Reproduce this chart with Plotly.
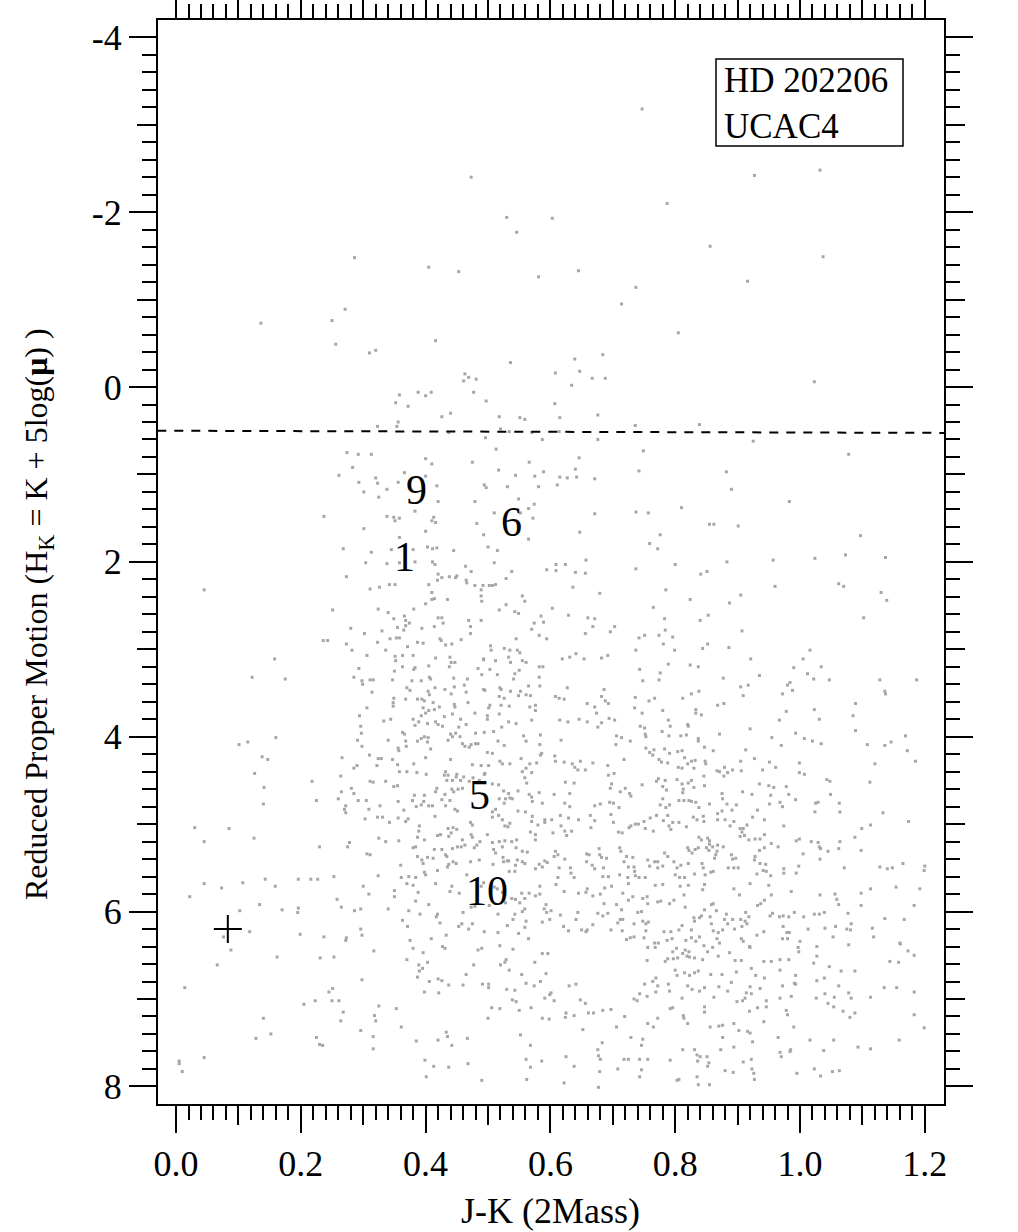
import plotly.graph_objects as go

# ---- data (J-K colour, reduced proper motion H_K) ----
upper_field = [
    (0.747, -3.18), (0.473, -2.40), (0.927, -2.42), (1.032, -2.48), (0.787, -2.10), (0.530, -1.94),
    (0.603, -1.93), (0.546, -1.77), (0.856, -1.61), (1.037, -1.49), (0.286, -1.48), (0.405, -1.37),
    (0.453, -1.32), (0.645, -1.33), (0.581, -1.26), (0.916, -1.21), (0.737, -1.14), (0.714, -0.95),
    (0.271, -0.89), (0.136, -0.73), (0.250, -0.76), (0.805, -0.62), (0.256, -0.49), (0.416, -0.53),
    (0.310, -0.39), (0.320, -0.42), (0.684, -0.37), (0.639, -0.32), (0.536, -0.28), (0.647, -0.18),
    (0.608, -0.16), (0.463, -0.15), (0.469, -0.11), (0.461, -0.07), (0.481, -0.09), (0.667, -0.10),
    (0.688, -0.10), (1.023, -0.06), (0.634, -0.02), (0.477, 0.06), (0.358, 0.09), (0.388, 0.06),
    (0.400, 0.10), (0.409, 0.06), (0.352, 0.18), (0.372, 0.22), (0.497, 0.16), (0.607, 0.19),
    (0.426, 0.34), (0.440, 0.30), (0.518, 0.34), (0.551, 0.35), (0.559, 0.37), (0.615, 0.35),
    (0.676, 0.32), (0.323, 0.45), (0.356, 0.40), (0.354, 0.45), (0.736, 0.44), (0.839, 0.43),
    (0.520, 0.48), (0.534, 0.51), (0.570, 0.52), (0.614, 0.51),
]

mid_left = [
    (0.437, 0.52), (0.496, 0.58), (0.274, 0.75), (0.292, 0.77), (0.313, 0.77), (0.283, 0.92), (0.261, 1.01),
    (0.293, 1.09), (0.301, 1.20), (0.320, 1.04), (0.323, 1.10), (0.338, 1.17), (0.325, 1.26), (0.356, 1.09),
    (0.366, 0.98), (0.400, 0.82), (0.410, 0.88), (0.400, 1.02), (0.418, 1.13), (0.420, 1.31), (0.383, 1.42),
    (0.338, 1.48), (0.349, 1.49), (0.358, 1.50), (0.351, 1.53), (0.413, 1.49), (0.410, 1.53), (0.416, 1.55),
    (0.301, 1.62), (0.400, 1.65), (0.358, 1.72), (0.268, 1.85), (0.313, 1.89), (0.345, 1.86), (0.380, 1.86),
    (0.403, 1.83), (0.411, 1.85), (0.418, 1.84), (0.445, 1.87), (0.304, 2.01), (0.338, 2.02), (0.358, 2.01),
    (0.383, 2.00), (0.411, 2.00), (0.415, 2.03), (0.237, 1.48), (0.273, 2.17), (0.311, 2.31), (0.326, 2.29),
    (0.342, 2.26), (0.351, 2.26), (0.420, 2.14), (0.419, 2.21), (0.426, 2.18), (0.438, 2.17), (0.450, 2.16),
    (0.448, 2.18), (0.405, 2.26), (0.410, 2.35), (0.414, 2.42), (0.410, 2.43), (0.400, 2.48), (0.435, 2.43),
    (0.464, 2.05), (0.473, 2.11), (0.465, 2.21), (0.466, 2.24), (0.479, 2.27), (0.489, 2.32), (0.492, 2.27),
    (0.502, 2.27), (0.512, 2.26), (0.507, 2.27), (0.489, 2.39), (0.490, 2.45), (0.529, 2.19), (0.538, 2.11),
    (0.510, 2.01), (0.500, 1.83), (0.515, 1.87), (0.493, 1.69), (0.482, 1.56), (0.479, 1.31), (0.494, 1.12),
    (0.497, 1.15), (0.510, 1.44), (0.531, 1.14), (0.549, 1.28), (0.552, 1.44), (0.565, 1.39), (0.574, 1.34),
    (0.572, 1.50), (0.565, 1.74), (0.544, 1.01), (0.517, 0.95), (0.513, 0.71), (0.475, 0.86), (0.566, 0.86),
    (0.575, 1.02), (0.587, 0.60), (0.589, 0.97), (0.581, 1.14), (0.594, 2.09), (0.045, 2.32), (0.251, 2.55),
    (0.324, 2.54), (0.340, 2.58), (0.349, 2.65), (0.366, 2.62), (0.368, 2.67), (0.374, 2.70), (0.368, 2.73),
    (0.365, 2.78), (0.381, 2.54), (0.355, 2.75), (0.394, 2.76), (0.414, 2.74), (0.420, 2.64), (0.426, 2.64),
    (0.428, 2.70), (0.469, 2.67), (0.472, 2.74), (0.489, 2.67), (0.472, 2.82), (0.518, 2.55), (0.529, 2.49),
    (0.543, 2.57), (0.549, 2.59), (0.555, 2.39), (0.559, 2.45), (0.585, 2.62), (0.589, 2.69), (0.574, 2.70),
    (0.570, 2.77), (0.582, 2.84), (0.594, 2.88), (0.280, 2.76), (0.302, 2.82), (0.330, 2.79), (0.236, 2.90),
    (0.243, 2.90), (0.273, 2.94), (0.282, 3.01), (0.323, 2.92), (0.343, 2.88), (0.353, 2.87), (0.358, 2.87),
    (0.371, 2.97), (0.387, 2.92), (0.396, 2.93), (0.423, 2.88), (0.425, 2.90), (0.432, 2.95), (0.442, 2.94),
    (0.457, 2.89), (0.545, 2.88), (0.504, 2.96), (0.505, 3.01), (0.526, 2.99), (0.535, 3.01), (0.547, 3.01),
    (0.551, 3.04), (0.306, 3.07), (0.336, 3.01), (0.351, 3.08), (0.363, 3.07), (0.380, 3.07), (0.416, 3.10),
    (0.439, 3.09), (0.493, 3.11), (0.533, 3.09), (0.158, 3.11),
]

mid_right = [
    (0.676, 0.60), (0.925, 0.62), (0.749, 0.73), (0.646, 0.81), (1.078, 0.77), (0.640, 0.94), (0.615, 1.03),
    (0.627, 1.04), (0.642, 1.03), (0.611, 1.12), (0.671, 1.05), (0.742, 0.96), (0.882, 0.97), (0.890, 1.17),
    (0.983, 1.31), (0.671, 1.45), (0.737, 1.43), (0.757, 1.44), (0.810, 1.38), (0.855, 1.57), (0.862, 1.57),
    (0.901, 1.59), (0.647, 1.66), (0.776, 1.69), (0.759, 1.79), (0.772, 1.85), (1.097, 1.70), (0.609, 2.03),
    (0.624, 2.03), (0.609, 2.10), (0.640, 2.12), (0.656, 2.13), (0.657, 1.98), (0.737, 2.08), (0.800, 2.03),
    (0.841, 2.14), (0.851, 2.11), (0.883, 2.00), (0.957, 1.98), (1.024, 1.96), (1.073, 1.92), (1.137, 1.95),
    (0.636, 2.29), (0.679, 2.36), (0.785, 2.32), (0.824, 2.43), (0.887, 2.47), (0.905, 2.38), (0.960, 2.28),
    (1.062, 2.25), (1.070, 2.28), (1.130, 2.35), (1.139, 2.44), (0.603, 2.53), (0.629, 2.61), (0.660, 2.64),
    (0.671, 2.65), (0.668, 2.74), (0.656, 2.82), (0.696, 2.80), (0.703, 2.74), (0.765, 2.52), (0.783, 2.65),
    (0.784, 2.78), (0.774, 2.84), (0.796, 2.86), (0.781, 2.94), (0.799, 3.01), (0.742, 2.87), (0.751, 2.84),
    (0.737, 3.01), (0.840, 2.67), (0.853, 2.61), (0.907, 2.79), (0.852, 2.94), (0.844, 2.99), (0.886, 2.98),
    (1.102, 2.64), (1.016, 3.01), (1.005, 3.11), (0.921, 3.11), (0.619, 3.11), (0.631, 3.09), (0.641, 3.05),
    (0.654, 3.11), (0.682, 3.10), (0.692, 3.07),
]

core_left = [
    (0.441, 3.15), (0.447, 3.15), (0.493, 3.12), (0.512, 3.13), (0.536, 3.15), (0.555, 3.13), (0.561, 3.15),
    (0.582, 3.20), (0.588, 3.20), (0.352, 3.13), (0.350, 3.25), (0.363, 3.20), (0.383, 3.21), (0.381, 3.23),
    (0.405, 3.19), (0.438, 3.20), (0.484, 3.22), (0.503, 3.23), (0.550, 3.24), (0.543, 3.28), (0.293, 3.22),
    (0.122, 3.32), (0.175, 3.34), (0.285, 3.32), (0.298, 3.36), (0.299, 3.40), (0.311, 3.35), (0.316, 3.35),
    (0.347, 3.35), (0.378, 3.36), (0.393, 3.36), (0.406, 3.32), (0.408, 3.34), (0.445, 3.33), (0.467, 3.34),
    (0.490, 3.29), (0.515, 3.29), (0.541, 3.34), (0.582, 3.32), (0.314, 3.49), (0.370, 3.44), (0.375, 3.47),
    (0.404, 3.48), (0.406, 3.52), (0.415, 3.44), (0.431, 3.46), (0.446, 3.43), (0.441, 3.51), (0.462, 3.41),
    (0.465, 3.49), (0.493, 3.46), (0.495, 3.47), (0.519, 3.44), (0.521, 3.46), (0.536, 3.48), (0.549, 3.53),
    (0.552, 3.48), (0.565, 3.42), (0.561, 3.52), (0.583, 3.42), (0.568, 3.53), (0.306, 3.67), (0.349, 3.56),
    (0.368, 3.57), (0.348, 3.61), (0.348, 3.65), (0.387, 3.57), (0.394, 3.57), (0.398, 3.59), (0.412, 3.61),
    (0.396, 3.67), (0.405, 3.70), (0.414, 3.69), (0.422, 3.66), (0.446, 3.63), (0.447, 3.66), (0.468, 3.61),
    (0.503, 3.64), (0.501, 3.67), (0.521, 3.64), (0.534, 3.65), (0.518, 3.54), (0.526, 3.56), (0.567, 3.66),
    (0.576, 3.64), (0.576, 3.70), (0.294, 3.76), (0.296, 3.88), (0.333, 3.82), (0.344, 3.80), (0.380, 3.80),
    (0.393, 3.76), (0.400, 3.73), (0.389, 3.83), (0.403, 3.85), (0.416, 3.83), (0.420, 3.86), (0.430, 3.77),
    (0.427, 3.88), (0.443, 3.74), (0.456, 3.80), (0.453, 3.89), (0.465, 3.86), (0.479, 3.73), (0.499, 3.76),
    (0.499, 3.80), (0.518, 3.74), (0.533, 3.83), (0.545, 3.85), (0.570, 3.81), (0.522, 3.89), (0.297, 3.96),
    (0.291, 4.04), (0.298, 4.11), (0.340, 4.04), (0.356, 4.13), (0.357, 4.16), (0.366, 3.97), (0.368, 4.05),
    (0.369, 4.11), (0.383, 3.87), (0.387, 4.05), (0.393, 4.02), (0.398, 4.00), (0.404, 4.01), (0.403, 4.06),
    (0.408, 4.14), (0.363, 3.95), (0.436, 4.04), (0.440, 3.97), (0.443, 4.00), (0.448, 3.96), (0.455, 4.00),
    (0.459, 4.08), (0.463, 4.11), (0.470, 4.12), (0.473, 4.09), (0.480, 4.08), (0.484, 4.08), (0.480, 3.96),
    (0.494, 3.95), (0.499, 4.18), (0.509, 3.94), (0.507, 4.19), (0.516, 4.05), (0.526, 4.10), (0.557, 3.99),
    (0.561, 4.05), (0.584, 3.98), (0.583, 4.09), (0.586, 4.19), (0.101, 4.09), (0.115, 4.06), (0.160, 4.01),
    (0.266, 4.24), (0.285, 4.36), (0.290, 4.33), (0.310, 4.21), (0.324, 4.25), (0.329, 4.25), (0.322, 4.33),
    (0.347, 4.26), (0.355, 4.32), (0.358, 4.40), (0.370, 4.40), (0.381, 4.31), (0.386, 4.41), (0.400, 4.24),
    (0.401, 4.43), (0.440, 4.26), (0.432, 4.40), (0.436, 4.44), (0.450, 4.43), (0.449, 4.46), (0.461, 4.46),
    (0.475, 4.32), (0.489, 4.33), (0.501, 4.33), (0.495, 4.42), (0.519, 4.28), (0.523, 4.31), (0.535, 4.31),
    (0.553, 4.25), (0.555, 4.40), (0.561, 4.36), (0.570, 4.41), (0.567, 4.31), (0.578, 4.30), (0.584, 4.21),
    (0.138, 4.23), (0.147, 4.26), (0.126, 4.42), (0.218, 4.51), (0.264, 4.45), (0.311, 4.51), (0.316, 4.52),
    (0.336, 4.51), (0.349, 4.57), (0.355, 4.56), (0.265, 4.63), (0.281, 4.59), (0.285, 4.65), (0.260, 4.71),
    (0.272, 4.79), (0.270, 4.83), (0.272, 4.87), (0.292, 4.73), (0.305, 4.73), (0.309, 4.83), (0.303, 4.94),
    (0.323, 4.92), (0.331, 4.92), (0.327, 4.79), (0.342, 4.98), (0.356, 4.74), (0.356, 4.93), (0.365, 4.84),
    (0.368, 4.97), (0.372, 4.94), (0.379, 4.73), (0.382, 4.67), (0.385, 4.80), (0.393, 4.78), (0.397, 4.74),
    (0.398, 4.67), (0.405, 4.79), (0.411, 4.79), (0.418, 4.59), (0.416, 4.63), (0.431, 4.66), (0.442, 4.60),
    (0.445, 4.63), (0.452, 4.60), (0.459, 4.59), (0.415, 4.91), (0.426, 4.72), (0.432, 4.79), (0.439, 4.73),
    (0.447, 4.83), (0.451, 4.85), (0.430, 4.44), (0.434, 4.50), (0.443, 4.50), (0.456, 4.50), (0.470, 4.51),
    (0.476, 4.47), (0.486, 4.50), (0.494, 4.43), (0.507, 4.54), (0.517, 4.55), (0.518, 4.71), (0.525, 4.62),
    (0.528, 4.71), (0.526, 4.76), (0.535, 4.70), (0.539, 4.71), (0.548, 4.62), (0.533, 4.65), (0.559, 4.47),
    (0.562, 4.53), (0.566, 4.66), (0.570, 4.69), (0.571, 4.74), (0.582, 4.64), (0.587, 4.76), (0.507, 4.86),
    (0.512, 4.83), (0.517, 4.90), (0.507, 4.92), (0.535, 4.99), (0.523, 4.95), (0.532, 5.03), (0.527, 5.02),
    (0.548, 4.85), (0.560, 4.86), (0.571, 4.91), (0.570, 4.97), (0.580, 5.01), (0.591, 4.98), (0.591, 4.95),
    (0.141, 4.58), (0.140, 4.77), (0.225, 4.73), (0.030, 5.04), (0.085, 5.05), (0.045, 5.20), (0.125, 5.16),
    (0.230, 5.26), (0.275, 5.26), (0.278, 5.21), (0.306, 5.34), (0.311, 5.35), (0.325, 5.16), (0.336, 5.20),
    (0.357, 5.19), (0.390, 5.02), (0.389, 5.08), (0.387, 5.15), (0.398, 5.18), (0.419, 5.13), (0.424, 5.12),
    (0.436, 5.05), (0.437, 5.14), (0.441, 5.10), (0.444, 5.04), (0.450, 5.06), (0.443, 5.28), (0.451, 5.26),
    (0.459, 5.18), (0.463, 5.24), (0.473, 5.12), (0.475, 5.15), (0.478, 5.27), (0.482, 5.24), (0.487, 5.20),
    (0.472, 4.98), (0.475, 5.01), (0.499, 5.12), (0.507, 5.21), (0.518, 5.20), (0.527, 5.19), (0.538, 5.20),
    (0.546, 5.18), (0.509, 5.29), (0.512, 5.33), (0.524, 5.38), (0.533, 5.42), (0.545, 5.27), (0.555, 5.31),
    (0.563, 5.32), (0.523, 5.26), (0.568, 5.09), (0.576, 5.12), (0.576, 5.18), (0.380, 5.27), (0.384, 5.26),
    (0.387, 5.37), (0.394, 5.41), (0.396, 5.45), (0.403, 5.38), (0.412, 5.39), (0.414, 5.29), (0.426, 5.29),
    (0.432, 5.35), (0.434, 5.37), (0.444, 5.43), (0.449, 5.45), (0.457, 5.26), (0.472, 5.43), (0.486, 5.41),
    (0.508, 5.46), (0.525, 5.43), (0.531, 5.42), (0.547, 5.41), (0.544, 5.47), (0.555, 5.43), (0.559, 5.45),
    (0.582, 5.46), (0.591, 5.42), (0.595, 5.44), (0.360, 5.47), (0.324, 5.59), (0.361, 5.61), (0.373, 5.60),
    (0.384, 5.61), (0.398, 5.55), (0.400, 5.58), (0.419, 5.53), (0.435, 5.49), (0.437, 5.46), (0.143, 5.63),
    (0.196, 5.63), (0.216, 5.63), (0.227, 5.63), (0.253, 5.60), (0.466, 5.58), (0.534, 5.54), (0.543, 5.54),
    (0.576, 5.51), (0.587, 5.49),
]

core_right = [
    (0.743, 3.23), (0.776, 3.27), (0.789, 3.17), (0.824, 3.18), (0.837, 3.20), (0.748, 3.36), (0.774, 3.35),
    (0.877, 3.33), (0.935, 3.30), (0.990, 3.21), (1.012, 3.28), (1.022, 3.34), (1.034, 3.20), (1.047, 3.35),
    (1.128, 3.35), (1.187, 3.35), (0.627, 3.44), (0.608, 3.54), (0.614, 3.56), (0.622, 3.57), (0.659, 3.62),
    (0.671, 3.66), (0.686, 3.46), (0.682, 3.54), (0.688, 3.59), (0.693, 3.62), (0.736, 3.55), (0.758, 3.59),
    (0.767, 3.56), (0.812, 3.56), (0.826, 3.51), (0.838, 3.48), (0.905, 3.43), (0.917, 3.41), (0.909, 3.53),
    (0.972, 3.51), (0.980, 3.41), (0.984, 3.38), (0.988, 3.47), (1.136, 3.48), (1.137, 3.51), (1.089, 3.62),
    (1.085, 3.76), (1.089, 3.93), (0.615, 3.81), (0.628, 3.83), (0.646, 3.80), (0.659, 3.83), (0.676, 3.89),
    (0.682, 3.84), (0.694, 3.79), (0.703, 3.81), (0.674, 3.73), (0.735, 3.67), (0.747, 3.73), (0.780, 3.70),
    (0.789, 3.81), (0.792, 3.88), (0.820, 3.86), (0.821, 3.88), (0.833, 3.69), (0.833, 3.73), (0.842, 3.75),
    (0.868, 3.64), (0.878, 3.62), (0.978, 3.71), (0.967, 3.81), (1.023, 3.69), (1.031, 3.80), (0.920, 3.91),
    (0.744, 3.88), (0.751, 3.90), (0.752, 3.97), (0.753, 4.00), (0.779, 3.94), (0.790, 3.99), (0.809, 3.99),
    (0.818, 3.98), (0.837, 4.02), (0.837, 4.05), (0.871, 3.97), (0.706, 3.99), (0.714, 4.01), (0.728, 4.05),
    (0.705, 4.09), (0.617, 4.04), (0.955, 4.01), (0.970, 4.10), (0.993, 3.96), (1.007, 4.02), (1.020, 4.05),
    (1.034, 4.08), (1.108, 4.09), (1.136, 4.10), (1.146, 4.06), (1.169, 3.99), (1.172, 4.16), (1.185, 4.28),
    (1.120, 4.31), (1.112, 4.52), (0.607, 4.22), (0.608, 4.28), (0.622, 4.29), (0.635, 4.31), (0.639, 4.35),
    (0.648, 4.28), (0.644, 4.38), (0.656, 4.38), (0.668, 4.30), (0.692, 4.33), (0.693, 4.44), (0.702, 4.42),
    (0.718, 4.26), (0.753, 4.13), (0.759, 4.18), (0.766, 4.15), (0.764, 4.21), (0.774, 4.26), (0.778, 4.29),
    (0.788, 4.30), (0.783, 4.14), (0.791, 4.19), (0.804, 4.17), (0.811, 4.16), (0.815, 4.24), (0.805, 4.35),
    (0.811, 4.36), (0.820, 4.31), (0.826, 4.28), (0.832, 4.27), (0.830, 4.36), (0.848, 4.28), (0.849, 4.31),
    (0.846, 4.45), (0.861, 4.16), (0.847, 4.12), (0.867, 4.39), (0.871, 4.40), (0.879, 4.35), (0.884, 4.41),
    (0.892, 4.38), (0.878, 4.45), (0.906, 4.39), (0.905, 4.28), (0.913, 4.15), (0.927, 4.25), (0.940, 4.38),
    (0.951, 4.29), (0.961, 4.35), (0.999, 4.30), (0.999, 4.41), (1.007, 4.43), (1.043, 4.49), (1.048, 4.51),
    (0.624, 4.52), (0.638, 4.53), (0.606, 4.66), (0.631, 4.65), (0.623, 4.76), (0.631, 4.80), (0.671, 4.79),
    (0.680, 4.77), (0.695, 4.75), (0.701, 4.76), (0.710, 4.81), (0.698, 4.54), (0.696, 4.59), (0.712, 4.63),
    (0.720, 4.59), (0.727, 4.65), (0.729, 4.68), (0.747, 4.55), (0.770, 4.51), (0.773, 4.48), (0.784, 4.50),
    (0.780, 4.57), (0.786, 4.61), (0.803, 4.49), (0.811, 4.54), (0.813, 4.60), (0.812, 4.64), (0.821, 4.53),
    (0.826, 4.50), (0.830, 4.58), (0.847, 4.56), (0.780, 4.71), (0.776, 4.78), (0.785, 4.81), (0.791, 4.78),
    (0.806, 4.73), (0.814, 4.73), (0.822, 4.73), (0.826, 4.74), (0.833, 4.75), (0.838, 4.81), (0.855, 4.77),
    (0.875, 4.65), (0.876, 4.71), (0.883, 4.77), (0.898, 4.78), (0.908, 4.63), (0.923, 4.66), (0.935, 4.54),
    (0.950, 4.56), (0.958, 4.58), (0.953, 4.67), (0.968, 4.75), (0.972, 4.80), (0.978, 4.57), (0.982, 4.66),
    (0.993, 4.72), (0.951, 4.77), (0.932, 4.84), (1.025, 4.76), (1.029, 4.75), (1.024, 4.86), (1.063, 4.76),
    (1.064, 4.86), (1.049, 4.66), (1.133, 4.87), (1.174, 4.97), (0.602, 4.95), (0.616, 4.90), (0.629, 4.93),
    (0.645, 4.95), (0.664, 4.90), (0.671, 4.96), (0.665, 5.04), (0.604, 5.10), (0.617, 5.02), (0.623, 5.08),
    (0.634, 5.08), (0.626, 5.13), (0.697, 4.89), (0.701, 4.98), (0.709, 5.09), (0.715, 5.10), (0.726, 5.04),
    (0.729, 5.02), (0.736, 5.00), (0.741, 5.00), (0.750, 4.97), (0.752, 5.05), (0.765, 5.08), (0.760, 4.93),
    (0.770, 4.90), (0.788, 4.90), (0.781, 4.96), (0.790, 5.02), (0.796, 4.98), (0.806, 4.98), (0.793, 5.06),
    (0.818, 5.03), (0.829, 4.92), (0.835, 4.95), (0.845, 4.91), (0.846, 4.97), (0.868, 4.88), (0.875, 4.85),
    (0.891, 4.84), (0.868, 4.95), (0.880, 4.95), (0.894, 4.97), (0.915, 5.01), (0.924, 4.92), (0.943, 4.95),
    (0.888, 5.02), (0.904, 5.05), (0.909, 5.05), (0.907, 5.09), (0.904, 5.14), (0.911, 5.13), (0.918, 5.18),
    (0.928, 5.17), (0.936, 5.17), (0.943, 5.12), (0.974, 5.02), (0.935, 5.30), (0.943, 5.27), (0.954, 5.22),
    (0.965, 5.26), (0.994, 5.19), (0.999, 5.17), (1.018, 5.20), (1.029, 5.21), (1.031, 5.26), (1.033, 5.28),
    (1.045, 5.31), (1.062, 5.28), (1.064, 5.20), (1.088, 5.15), (1.098, 5.30), (1.099, 5.05), (1.113, 5.01),
    (0.608, 5.31), (0.612, 5.35), (0.606, 5.37), (0.623, 5.40), (0.614, 5.50), (0.632, 5.50), (0.633, 5.56),
    (0.638, 5.61), (0.658, 5.34), (0.662, 5.35), (0.658, 5.43), (0.667, 5.47), (0.678, 5.28), (0.679, 5.35),
    (0.682, 5.38), (0.690, 5.39), (0.671, 5.51), (0.685, 5.50), (0.684, 5.60), (0.693, 5.60), (0.711, 5.58),
    (0.711, 5.27), (0.713, 5.31), (0.722, 5.37), (0.732, 5.38), (0.718, 5.43), (0.725, 5.49), (0.734, 5.49),
    (0.735, 5.54), (0.736, 5.59), (0.724, 5.61), (0.742, 5.61), (0.752, 5.61), (0.756, 5.41), (0.767, 5.43),
    (0.772, 5.43), (0.759, 5.48), (0.772, 5.50), (0.780, 5.48), (0.783, 5.33), (0.788, 5.37), (0.798, 5.43),
    (0.803, 5.50), (0.809, 5.47), (0.800, 5.58), (0.807, 5.61), (0.815, 5.61), (0.822, 5.30), (0.820, 5.27),
    (0.827, 5.33), (0.832, 5.29), (0.837, 5.27), (0.838, 5.15), (0.842, 5.18), (0.852, 5.16), (0.855, 5.19),
    (0.855, 5.23), (0.850, 5.27), (0.854, 5.30), (0.860, 5.26), (0.868, 5.24), (0.877, 5.26), (0.867, 5.31),
    (0.865, 5.35), (0.863, 5.39), (0.821, 5.45), (0.843, 5.45), (0.845, 5.50), (0.831, 5.57), (0.848, 5.58),
    (0.857, 5.55), (0.861, 5.54), (0.890, 5.35), (0.892, 5.40), (0.897, 5.39), (0.885, 5.50), (0.894, 5.50),
    (0.901, 5.50), (0.927, 5.41), (0.928, 5.37), (0.936, 5.45), (0.945, 5.46), (0.946, 5.54), (0.931, 5.57),
    (0.941, 5.53), (0.953, 5.59), (0.974, 5.56), (0.974, 5.51), (0.994, 5.56), (0.998, 5.48), (1.005, 5.34),
    (1.032, 5.40), (1.071, 5.50), (1.128, 5.49), (1.140, 5.51), (1.148, 5.50), (1.165, 5.45), (1.200, 5.48),
    (1.199, 5.53), (0.612, 5.61),
]

low_left = [
    (0.045, 5.68), (0.073, 5.73), (0.107, 5.67), (0.159, 5.71), (0.022, 5.83), (0.102, 5.99), (0.134, 5.92),
    (0.170, 5.98), (0.196, 5.96), (0.195, 6.01), (0.258, 5.86), (0.265, 5.95), (0.286, 5.99), (0.296, 5.97),
    (0.300, 5.71), (0.309, 5.80), (0.340, 5.97), (0.350, 5.76), (0.350, 5.83), (0.370, 5.68), (0.380, 5.70),
    (0.388, 5.78), (0.416, 5.68), (0.442, 5.71), (0.439, 5.77), (0.454, 5.79), (0.384, 5.88), (0.405, 5.92),
    (0.373, 5.99), (0.391, 6.03), (0.363, 6.10), (0.371, 6.17), (0.419, 6.03), (0.417, 6.06), (0.423, 6.13),
    (0.460, 6.01), (0.453, 6.17), (0.458, 6.14), (0.469, 6.20), (0.475, 6.14), (0.473, 5.95), (0.479, 5.94),
    (0.494, 6.23), (0.516, 6.24), (0.502, 5.93), (0.516, 6.03), (0.531, 6.16), (0.540, 6.09), (0.543, 6.03),
    (0.549, 6.25), (0.561, 6.11), (0.559, 6.18), (0.565, 6.31), (0.587, 6.12), (0.599, 6.09), (0.594, 6.01),
    (0.590, 5.97), (0.593, 5.92), (0.583, 5.80), (0.576, 5.82), (0.583, 5.71), (0.554, 5.79), (0.559, 5.85),
    (0.566, 5.79), (0.551, 5.90), (0.538, 5.85), (0.544, 5.86), (0.555, 6.00), (0.559, 5.97), (0.528, 5.90),
    (0.523, 5.78), (0.515, 5.74), (0.493, 5.67), (0.489, 5.71), (0.510, 5.72), (0.118, 6.23), (0.076, 6.29),
    (0.088, 6.44), (0.066, 6.61), (0.014, 6.87), (0.162, 6.52), (0.199, 6.26), (0.237, 6.29), (0.273, 6.30),
    (0.272, 6.33), (0.296, 6.20), (0.298, 6.27), (0.317, 6.45), (0.231, 6.53), (0.253, 6.52), (0.298, 6.78),
    (0.375, 6.33), (0.380, 6.42), (0.396, 6.47), (0.370, 6.55), (0.389, 6.61), (0.390, 6.68), (0.395, 6.65),
    (0.403, 6.58), (0.387, 6.75), (0.409, 6.31), (0.433, 6.27), (0.427, 6.40), (0.431, 6.42), (0.477, 6.61),
    (0.465, 6.72), (0.484, 6.44), (0.490, 6.42), (0.519, 6.39), (0.540, 6.43), (0.520, 6.61), (0.527, 6.58),
    (0.529, 6.55), (0.534, 6.67), (0.554, 6.72), (0.575, 6.58), (0.587, 6.48), (0.596, 6.48), (0.593, 6.71),
    (0.245, 6.92), (0.251, 6.88), (0.250, 7.02), (0.261, 7.02), (0.205, 7.06), (0.223, 7.02), (0.268, 7.15),
    (0.264, 7.25), (0.325, 7.08), (0.353, 7.11), (0.318, 7.19), (0.320, 7.25), (0.296, 7.36), (0.316, 7.43),
    (0.316, 7.57), (0.361, 7.32), (0.385, 7.48), (0.399, 7.70), (0.413, 7.77), (0.437, 7.78), (0.468, 7.74),
    (0.401, 7.89), (0.420, 7.47), (0.433, 7.38), (0.435, 7.43), (0.442, 7.53), (0.467, 7.45), (0.490, 7.93),
    (0.561, 7.69), (0.568, 7.78), (0.586, 7.71), (0.562, 7.92), (0.552, 7.41), (0.568, 7.53), (0.500, 7.22),
    (0.506, 7.10), (0.519, 7.11), (0.550, 7.13), (0.569, 7.10), (0.587, 7.22), (0.598, 7.23), (0.591, 6.99),
    (0.599, 6.95), (0.530, 6.89), (0.543, 6.90), (0.539, 7.01), (0.545, 7.03), (0.561, 6.82), (0.574, 6.85),
    (0.584, 6.80), (0.491, 6.83), (0.501, 6.83), (0.501, 6.87), (0.460, 6.84), (0.437, 6.84), (0.420, 6.77),
    (0.426, 6.79), (0.406, 6.80), (0.398, 6.92), (0.421, 6.93), (0.140, 7.22), (0.128, 7.45), (0.152, 7.40),
    (0.225, 7.44), (0.230, 7.52), (0.235, 7.53), (0.045, 7.67), (0.005, 7.71), (0.005, 7.74), (0.010, 7.83),
]

low_right = [
    (0.609, 5.69), (0.622, 5.77), (0.645, 5.79), (0.657, 5.78), (0.668, 5.82), (0.659, 5.74), (0.680, 5.80),
    (0.687, 5.73), (0.698, 5.71), (0.716, 5.79), (0.725, 5.68), (0.768, 5.70), (0.780, 5.69), (0.808, 5.71),
    (0.821, 5.70), (0.847, 5.69), (0.844, 5.75), (0.894, 5.74), (0.903, 5.81), (0.920, 5.68), (0.950, 5.70),
    (0.986, 5.77), (1.032, 5.81), (1.056, 5.80), (1.059, 5.86), (1.098, 5.79), (1.113, 5.74), (1.154, 5.72),
    (1.192, 5.74), (1.183, 5.93), (1.098, 5.93), (1.077, 6.02), (1.136, 6.08), (1.167, 6.09), (1.062, 5.92),
    (1.031, 6.03), (1.039, 6.01), (1.013, 6.20), (1.040, 6.19), (1.057, 6.17), (1.075, 6.20), (1.081, 6.21),
    (1.082, 6.14), (1.116, 6.19), (1.118, 6.29), (1.161, 6.37), (1.173, 6.45), (1.183, 6.50), (1.053, 6.29),
    (1.078, 6.38), (1.027, 6.40), (1.027, 6.51), (1.022, 6.59), (1.047, 6.63), (1.066, 6.68), (1.088, 6.68),
    (0.997, 6.41), (0.998, 6.46), (1.000, 6.34), (0.972, 6.31), (0.980, 6.31), (0.973, 6.17), (0.979, 6.24),
    (0.983, 6.24), (0.973, 6.05), (0.982, 6.06), (0.991, 6.01), (1.006, 6.06), (1.023, 6.03), (0.967, 6.06),
    (0.956, 6.02), (0.952, 6.05), (0.932, 5.93), (0.937, 5.91), (0.943, 5.87), (0.954, 5.81), (0.918, 6.06),
    (0.913, 6.01), (0.905, 6.09), (0.892, 6.09), (0.882, 6.03), (0.879, 6.09), (0.884, 6.14), (0.895, 6.20),
    (0.915, 6.14), (0.907, 6.17), (0.912, 6.11), (0.931, 6.27), (0.942, 6.23), (0.919, 6.40), (0.906, 6.31),
    (0.876, 6.21), (0.869, 6.24), (0.861, 6.22), (0.858, 6.14), (0.856, 6.06), (0.858, 5.92), (0.861, 5.91),
    (0.866, 5.99), (0.847, 5.98), (0.842, 6.05), (0.831, 6.11), (0.830, 6.07), (0.816, 5.95), (0.814, 5.81),
    (0.798, 5.87), (0.791, 5.91), (0.772, 5.89), (0.777, 5.88), (0.756, 5.91), (0.748, 5.85), (0.755, 5.83),
    (0.732, 5.83), (0.725, 5.87), (0.740, 6.01), (0.746, 6.00), (0.714, 5.98), (0.706, 5.92), (0.686, 5.91),
    (0.692, 6.02), (0.684, 6.05), (0.676, 6.02), (0.644, 6.01), (0.641, 6.09), (0.616, 6.04), (0.601, 5.99),
    (0.621, 6.17), (0.629, 6.22), (0.650, 6.21), (0.659, 6.21), (0.657, 6.23), (0.668, 6.15), (0.697, 6.21),
    (0.715, 6.22), (0.734, 6.14), (0.748, 6.11), (0.753, 6.14), (0.757, 6.12), (0.753, 6.22), (0.708, 6.13),
    (0.712, 6.09), (0.716, 6.09), (0.722, 6.32), (0.728, 6.30), (0.734, 6.29), (0.750, 6.30), (0.756, 6.41),
    (0.768, 6.41), (0.773, 6.36), (0.767, 6.36), (0.782, 6.23), (0.793, 6.23), (0.806, 6.21), (0.811, 6.16),
    (0.826, 6.21), (0.839, 6.29), (0.839, 6.07), (0.787, 6.33), (0.795, 6.31), (0.817, 6.33), (0.826, 6.30),
    (0.833, 6.34), (0.816, 6.44), (0.812, 6.48), (0.822, 6.46), (0.819, 6.51), (0.802, 6.42), (0.796, 6.46),
    (0.804, 6.53), (0.797, 6.54), (0.784, 6.57), (0.788, 6.54), (0.823, 6.52), (0.831, 6.53), (0.844, 6.55),
    (0.846, 6.39), (0.852, 6.46), (0.860, 6.41), (0.867, 6.31), (0.871, 6.36), (0.869, 6.51), (0.887, 6.47),
    (0.896, 6.56), (0.906, 6.56), (0.922, 6.65), (0.929, 6.73), (0.898, 6.69), (0.875, 6.72), (0.890, 6.81),
    (0.857, 6.72), (0.837, 6.68), (0.831, 6.70), (0.823, 6.73), (0.815, 6.70), (0.803, 6.73), (0.800, 6.67),
    (0.755, 6.56), (0.769, 6.76), (0.764, 6.80), (0.751, 6.83), (0.772, 6.85), (0.769, 6.92), (0.791, 6.91),
    (0.789, 6.83), (0.811, 6.99), (0.820, 6.85), (0.827, 6.89), (0.839, 6.91), (0.847, 6.87), (0.862, 6.98),
    (0.870, 6.86), (0.884, 6.91), (0.899, 7.03), (0.908, 7.02), (0.912, 6.99), (0.914, 6.93), (0.920, 6.86),
    (0.922, 6.94), (0.936, 6.88), (0.946, 7.02), (0.946, 7.09), (0.932, 7.10), (0.919, 7.14), (0.847, 7.09),
    (0.847, 7.15), (0.820, 7.28), (0.814, 7.22), (0.813, 7.19), (0.792, 7.11), (0.796, 7.10), (0.772, 7.22),
    (0.765, 7.32), (0.756, 7.28), (0.755, 6.97), (0.743, 6.94), (0.734, 7.00), (0.739, 7.02), (0.719, 7.20),
    (0.706, 7.32), (0.697, 7.12), (0.684, 7.13), (0.669, 7.16), (0.661, 7.16), (0.648, 7.01), (0.656, 7.05),
    (0.638, 7.19), (0.625, 7.16), (0.624, 7.21), (0.630, 6.85), (0.641, 6.83), (0.606, 7.02), (0.601, 6.93),
    (0.652, 7.35), (0.683, 7.50), (0.676, 7.58), (0.677, 7.65), (0.680, 7.69), (0.625, 7.66), (0.638, 7.77),
    (0.622, 7.96), (0.677, 8.01), (0.679, 7.83), (0.708, 7.80), (0.718, 7.69), (0.725, 7.69), (0.743, 7.69),
    (0.756, 7.69), (0.746, 7.81), (0.743, 7.89), (0.729, 7.44), (0.746, 7.53), (0.748, 7.46), (0.792, 7.70),
    (0.812, 7.58), (0.803, 7.93), (0.806, 7.92), (0.831, 7.58), (0.835, 7.64), (0.840, 7.66), (0.836, 7.71),
    (0.851, 7.66), (0.854, 7.73), (0.852, 7.77), (0.835, 7.89), (0.837, 7.98), (0.855, 7.98), (0.880, 7.82),
    (0.893, 7.84), (0.909, 7.72), (0.922, 7.69), (0.923, 7.80), (0.926, 7.85), (0.927, 7.92), (0.873, 7.58),
    (0.894, 7.55), (0.876, 7.44), (0.856, 7.32), (0.870, 7.31), (0.876, 7.30), (0.894, 7.28), (0.902, 7.36),
    (0.916, 7.37), (0.920, 7.39), (0.924, 7.49), (0.942, 7.26), (0.965, 7.44), (0.968, 7.61), (0.970, 7.66),
    (0.985, 7.58), (0.984, 7.60), (0.990, 7.32), (1.016, 7.47), (1.038, 7.59), (1.054, 7.47), (1.093, 7.55),
    (1.113, 7.57), (1.159, 7.47), (0.995, 7.85), (1.023, 7.80), (1.033, 7.88), (1.052, 7.83), (1.063, 7.82),
    (0.943, 6.76), (0.968, 6.67), (0.993, 6.73), (0.991, 6.82), (0.972, 6.85), (0.968, 6.99), (0.986, 6.97),
    (0.993, 6.83), (0.978, 7.13), (0.980, 7.18), (1.027, 6.79), (1.039, 6.76), (1.026, 6.99), (1.040, 6.94),
    (1.055, 6.98), (1.045, 7.05), (1.054, 7.09), (1.062, 6.85), (1.078, 6.93), (1.082, 6.99), (1.069, 7.14),
    (1.080, 7.21), (1.088, 7.16), (1.113, 6.98), (1.135, 6.87), (1.155, 6.87), (1.183, 6.92), (1.183, 7.18),
    (1.199, 7.33), (1.158, 6.58), (1.144, 6.57), (1.160, 6.36), (0.954, 6.57), (0.968, 6.55), (0.982, 6.55),
    (0.942, 6.57), (0.920, 6.41), (0.909, 6.34),
]

# dashed separation line, target star, labelled stars
cut_jk = [-0.03, 1.235]
cut_hk = [0.50, 0.525]
target_jk = [0.083]
target_hk = [6.20]
label_text = ["9", "6", "1", "5", "10"]
label_jk = [0.385, 0.538, 0.366, 0.486, 0.498]
label_hk = [1.18, 1.54, 1.94, 4.67, 5.77]

legend_text = "HD 202206<br>UCAC4"

x_tickvals = [0.0, 0.2, 0.4, 0.6, 0.8, 1.0, 1.2]
x_ticktext = ["0.0", "0.2", "0.4", "0.6", "0.8", "1.0", "1.2"]
y_tickvals = [-4, -2, 0, 2, 4, 6, 8]
y_ticktext = ["-4", "-2", "0", "2", "4", "6", "8"]

# ---- figure ----
groups = [upper_field, mid_left, mid_right, core_left, core_right, low_left, low_right]
jk = [p[0] for g in groups for p in g]
hk = [p[1] for g in groups for p in g]

XR = [-0.0289, 1.2308]
YR = [8.201, -4.198]
FONT = "Liberation Serif"

# plot area in pixels (for paper-coordinate placement of decorations)
PL, PR, PT, PB = 158.0, 944.0, 20.0, 1104.0


def px_x(px):
    return (px - PL) / (PR - PL)


def px_y(py):
    return 1 - (py - PT) / (PB - PT)


fig = go.Figure()
fig.add_trace(go.Scatter(x=jk, y=hk, mode="markers",
                         marker=dict(symbol="square", size=3, color="#a6a6a6", line=dict(width=0)),
                         hoverinfo="skip", showlegend=False))
fig.add_trace(go.Scatter(x=cut_jk, y=cut_hk, mode="lines",
                         line=dict(color="black", width=2, dash="9px,8px"),
                         hoverinfo="skip", showlegend=False))
fig.add_trace(go.Scatter(x=target_jk, y=target_hk, mode="markers",
                         marker=dict(symbol="cross-thin", size=20, line=dict(width=2, color="black")),
                         hoverinfo="skip", showlegend=False))
fig.add_trace(go.Scatter(x=[None], y=[None], xaxis="x2", yaxis="y2", showlegend=False, hoverinfo="skip"))

tickstyle = dict(ticks="outside", tickwidth=2, tickcolor="black", showgrid=False, zeroline=False,
                 automargin=False)

x_minor = [round(i * 0.02, 2) for i in range(61)]
y_minor = [round(-4 + i * 0.2, 1) for i in range(61)]

fig.update_layout(
    width=1018, height=1232,
    margin=dict(l=158, r=74, t=20, b=128, pad=0, autoexpand=False),
    paper_bgcolor="white", plot_bgcolor="white",
    showlegend=False,
    xaxis=dict(range=XR, tickmode="array", tickvals=x_tickvals, ticktext=x_ticktext,
               ticklen=27, showline=True, linewidth=2, linecolor="black", mirror="ticks",
               tickfont=dict(family=FONT, size=36, color="black"),
               minor=dict(tickmode="array", tickvals=x_minor, ticks="outside", ticklen=14,
                          tickwidth=2, tickcolor="black", showgrid=False),
               **tickstyle),
    xaxis2=dict(range=XR, overlaying="x", anchor="y", side="bottom", tickmode="array",
                tickvals=[0.1, 0.3, 0.5, 0.7, 0.9, 1.1], ticklen=20, showticklabels=False,
                showline=False, mirror="ticks", **tickstyle),
    yaxis=dict(range=YR, tickmode="array", tickvals=y_tickvals, ticktext=y_ticktext,
               ticklen=27, showline=True, linewidth=2, linecolor="black", mirror="ticks",
               tickfont=dict(family=FONT, size=36, color="black"),
               minor=dict(tickmode="array", tickvals=y_minor, ticks="outside", ticklen=14,
                          tickwidth=2, tickcolor="black", showgrid=False),
               **tickstyle),
    yaxis2=dict(range=YR, overlaying="y", anchor="x", side="left", tickmode="array",
                tickvals=[-3, -1, 1, 3, 5, 7], ticklen=20, showticklabels=False,
                showline=False, mirror="ticks", **tickstyle),
)

for t, xv, yv in zip(label_text, label_jk, label_hk):
    fig.add_annotation(x=xv, y=yv, xref="x", yref="y", text=t, showarrow=False,
                       font=dict(family=FONT, size=42, color="black"),
                       xanchor="center", yanchor="middle")

# legend box (frame drawn as a shape, text as a single two-line annotation)
fig.add_shape(type="rect", xref="paper", yref="paper",
              x0=px_x(716), x1=px_x(903), y0=px_y(146), y1=px_y(59),
              line=dict(color="black", width=1.5), fillcolor="white", layer="above")
fig.add_annotation(x=px_x(722), y=px_y(103), xref="paper", yref="paper",
                   xanchor="left", yanchor="middle", text=legend_text, align="left",
                   showarrow=False, font=dict(family=FONT, size=35, color="black"))

fig.add_annotation(x=px_x(38), y=px_y(614), xref="paper", yref="paper",
                   text="Reduced Proper Motion (H<sub>K</sub> = K + 5log(<b>μ</b>) )",
                   textangle=-90, showarrow=False, xanchor="center", yanchor="middle",
                   font=dict(family=FONT, size=32, color="black"))

fig.add_annotation(x=px_x(550), y=px_y(1211), xref="paper", yref="paper",
                   text="J-K (2Mass)", showarrow=False, xanchor="center", yanchor="middle",
                   font=dict(family=FONT, size=36, color="black"))

fig.write_html("out.html")
